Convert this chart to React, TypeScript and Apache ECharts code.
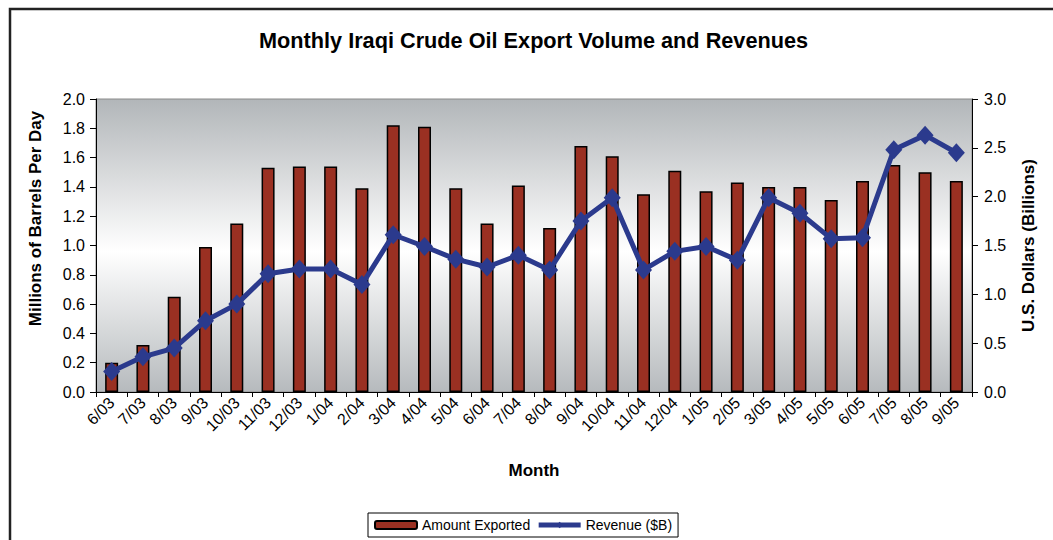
import React, { useEffect, useRef } from "react";
import * as echarts from "echarts";

const months = [
  "6/03", "7/03", "8/03", "9/03", "10/03", "11/03", "12/03",
  "1/04", "2/04", "3/04", "4/04", "5/04", "6/04", "7/04", "8/04", "9/04", "10/04", "11/04", "12/04",
  "1/05", "2/05", "3/05", "4/05", "5/05", "6/05", "7/05", "8/05", "9/05",
];

const amountExported = [
  0.2, 0.32, 0.65, 0.99, 1.15, 1.53, 1.54,
  1.54, 1.39, 1.82, 1.81, 1.39, 1.15, 1.41, 1.12, 1.68, 1.61, 1.35, 1.51,
  1.37, 1.43, 1.4, 1.4, 1.31, 1.44, 1.55, 1.5, 1.44,
];

const revenue = [
  0.21, 0.36, 0.45, 0.73, 0.9, 1.21, 1.26,
  1.26, 1.1, 1.61, 1.49, 1.36, 1.28, 1.4, 1.25, 1.75, 1.99, 1.25, 1.44,
  1.49, 1.35, 1.99, 1.83, 1.57, 1.58, 2.48, 2.63, 2.45,
];

const FONT = "'Liberation Sans', Arial, sans-serif";

export default function App() {
  const ref = useRef<HTMLDivElement>(null);

  useEffect(() => {
    document.body.style.margin = "0";
    if (!ref.current) return;
    const chart = echarts.init(ref.current, undefined, { renderer: "svg" });
    chart.setOption({
      animation: false,
      backgroundColor: "#ffffff",
      textStyle: { fontFamily: FONT, color: "#000" },
      title: {
        text: "Monthly Iraqi Crude Oil Export Volume and Revenues",
        left: 254,
        top: 24,
        textStyle: { fontFamily: FONT, fontSize: 21.7, fontWeight: "bold", color: "#000" },
      },
      graphic: [
        {
          type: "rect",
          shape: { x: 10, y: 9, width: 1070, height: 580 },
          style: { fill: "none", stroke: "#222", lineWidth: 2.5 },
          silent: true,
          z: 100,
        },
      ],
      legend: {
        bottom: 3,
        left: 368,
        borderColor: "#000",
        borderWidth: 1,
        borderRadius: 0,
        padding: [5, 6, 5, 6],
        itemGap: 6,
        itemWidth: 42,
        itemHeight: 8,
        textStyle: { fontFamily: FONT, fontSize: 14, color: "#000" },
        data: [
          { name: "Amount Exported", itemStyle: { borderWidth: 2, borderColor: "#000" } },
          { name: "Revenue ($B)", lineStyle: { width: 5, color: "#2b3a8d" } },
        ],
      },
      grid: {
        left: 96,
        right: 81,
        top: 99,
        bottom: 148,
        show: true,
        borderColor: "#8a8a8a",
        borderWidth: 1,
        backgroundColor: {
          type: "linear",
          x: 0, y: 0, x2: 0, y2: 1,
          colorStops: [
            { offset: 0, color: "#b2b6b9" },
            { offset: 0.52, color: "#ffffff" },
            { offset: 1, color: "#b6babd" },
          ],
        },
      },
      xAxis: {
        type: "category",
        data: months,
        boundaryGap: true,
        name: "Month",
        nameLocation: "middle",
        nameGap: 70,
        nameTextStyle: { fontFamily: FONT, fontSize: 17, fontWeight: "bold", color: "#000" },
        axisLine: { lineStyle: { color: "#000", width: 1 } },
        axisTick: { show: true, length: 5, lineStyle: { color: "#000" } },
        axisLabel: { rotate: 45, fontFamily: FONT, fontSize: 16, color: "#000", margin: 8, interval: 0 },
        splitLine: { show: false },
      },
      yAxis: [
        {
          type: "value",
          min: 0,
          max: 2.0,
          interval: 0.2,
          position: "left",
          name: "Millions of Barrels Per Day",
          nameLocation: "middle",
          nameRotate: 90,
          nameGap: 52,
          nameTextStyle: {
            fontFamily: FONT, fontSize: 17, fontWeight: "bold", color: "#000",
            padding: [0, 0, 0, 54],
          },
          axisLine: { show: true, lineStyle: { color: "#000" } },
          axisTick: { show: true, length: 6, lineStyle: { color: "#000" } },
          axisLabel: {
            fontFamily: FONT, fontSize: 16, color: "#000", margin: 11,
            formatter: (v: number) => v.toFixed(1),
          },
          splitLine: { show: false },
        },
        {
          type: "value",
          min: 0,
          max: 3.0,
          interval: 0.5,
          position: "right",
          name: "U.S. Dollars (Billions)",
          nameLocation: "middle",
          nameRotate: 90,
          nameGap: 48,
          nameTextStyle: { fontFamily: FONT, fontSize: 17, fontWeight: "bold", color: "#000" },
          axisLine: { show: true, lineStyle: { color: "#000" } },
          axisTick: { show: true, length: 6, lineStyle: { color: "#000" } },
          axisLabel: {
            fontFamily: FONT, fontSize: 16, color: "#000", margin: 12,
            formatter: (v: number) => v.toFixed(1),
          },
          splitLine: { show: false },
        },
      ],
      series: [
        {
          name: "Amount Exported",
          type: "bar",
          yAxisIndex: 0,
          data: amountExported,
          barWidth: 13,
          itemStyle: { color: "#9a3022", borderColor: "#000", borderWidth: 1.5 },
          z: 2,
        },
        {
          name: "Revenue ($B)",
          type: "line",
          yAxisIndex: 1,
          data: revenue,
          symbol: "diamond",
          symbolSize: [17, 19],
          lineStyle: { color: "#2b3a8d", width: 5 },
          itemStyle: { color: "#2b3a8d" },
          z: 3,
        },
      ],
    });
    return () => chart.dispose();
  }, []);

  return <div ref={ref} style={{ width: 1053, height: 540 }} />;
}
